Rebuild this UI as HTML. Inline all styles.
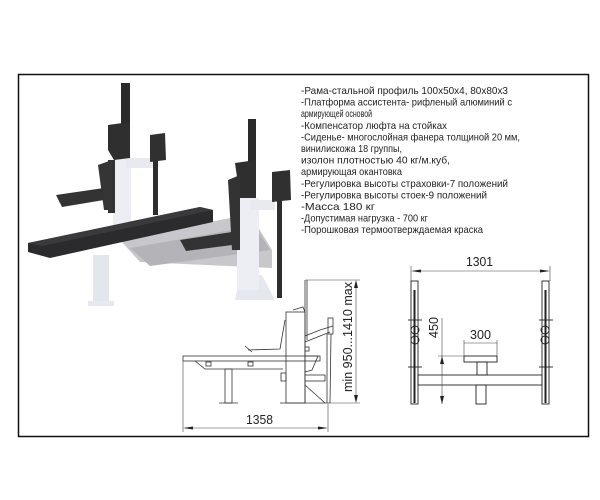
<!DOCTYPE html>
<html><head><meta charset="utf-8"><style>
html,body{margin:0;padding:0;background:#fff;}
svg{display:block;}
text{font-family:"Liberation Sans",sans-serif;fill:#222;}
</style></head><body>
<svg width="600" height="500" viewBox="0 0 600 500" xmlns="http://www.w3.org/2000/svg">
<rect x="0" y="0" width="600" height="500" fill="#fff"/>
<rect x="18.5" y="74.5" width="570" height="362" fill="none" stroke="#111" stroke-width="1.5"/>

<!-- photo -->
<g>
<!-- grey frame under bench -->
<polygon points="120,240 250,214 272,250 272,268 140,262" fill="#c8c8cc"/>
<polygon points="130,248 255,226 270,250 150,266" fill="#b4b4b8"/>
<!-- left front leg -->
<rect x="93" y="255" width="16" height="48" fill="#e4e6ee"/>
<rect x="88" y="301" width="26" height="5" fill="#e8e8f0"/>
<!-- left upright white -->
<rect x="113" y="155" width="18" height="70" fill="#eceef4"/>
<rect x="126" y="158" width="28" height="10" fill="#e8eaf0"/>
<!-- left upright dark -->
<rect x="121" y="83" width="9" height="45" fill="#2a2a2a"/>
<polygon points="108,125 130,122 130,158 114,160 108,150" fill="#2f2f2f"/>
<polygon points="108,160 115,160 115,213 108,213" fill="#333"/>
<polygon points="98,165 112,160 112,210 104,210" fill="#353535"/>
<polygon points="56,195 104,188 104,200 62,207" fill="#333"/>
<!-- left vertical bar -->
<rect x="153" y="140" width="5" height="75" fill="#2e2e2e"/>
<polygon points="150,135 165,133 166,160 150,162" fill="#303030"/>
<!-- bench pad -->
<polygon points="28,243 200,207 213,210 213,222 50,258 28,252" fill="#2b2b2d"/>
<polygon points="28,243 200,207 213,210 42,246" fill="#3a3a3c"/>
<!-- right upright white -->
<rect x="237" y="198" width="22" height="95" fill="#eceef4"/>
<polygon points="237,290 235,300 275,300 262,275 259,275 259,290" fill="#e6e8f0"/>
<rect x="250" y="200" width="25" height="10" fill="#e8eaf0"/>
<!-- right upright dark -->
<rect x="248" y="119" width="8" height="45" fill="#2a2a2a"/>
<polygon points="235,163 256,160 256,198 240,198" fill="#2f2f2f"/>
<polygon points="228,180 240,175 240,250 232,250" fill="#333"/>
<polygon points="180,240 232,232 232,245 186,251" fill="#333"/>
<!-- right vertical bar -->
<rect x="277" y="200" width="5" height="98" fill="#2e2e2e"/>
<polygon points="272,172 290,170 291,200 272,202" fill="#303030"/>
</g>

<!-- specs text -->
<g font-size="10.5" lengthAdjust="spacingAndGlyphs">
<text x="301" y="94" textLength="207" lengthAdjust="spacingAndGlyphs">-Рама-стальной профиль 100x50x4, 80x80x3</text>
<text x="301" y="105.6" textLength="211" lengthAdjust="spacingAndGlyphs">-Платформа ассистента- рифленый алюминий с</text>
<text x="301" y="117.2" textLength="71" lengthAdjust="spacingAndGlyphs">армирующей основой</text>
<text x="301" y="128.8" textLength="146" lengthAdjust="spacingAndGlyphs">-Компенсатор люфта на стойках</text>
<text x="301" y="140.4" textLength="219" lengthAdjust="spacingAndGlyphs">-Сиденье- многослойная фанера толщиной 20 мм,</text>
<text x="301" y="152" textLength="101" lengthAdjust="spacingAndGlyphs">винилискожа 18 группы,</text>
<text x="301" y="163.6" textLength="149" lengthAdjust="spacingAndGlyphs">изолон плотностью 40 кг/м.куб,</text>
<text x="301" y="175.2" textLength="101" lengthAdjust="spacingAndGlyphs">армирующая окантовка</text>
<text x="301" y="186.8" textLength="207" lengthAdjust="spacingAndGlyphs">-Регулировка высоты страховки-7 положений</text>
<text x="301" y="198.4" textLength="186" lengthAdjust="spacingAndGlyphs">-Регулировка высоты стоек-9 положений</text>
<text x="301" y="210" textLength="74" lengthAdjust="spacingAndGlyphs">-Масса 180 кг</text>
<text x="301" y="221.6" textLength="127" lengthAdjust="spacingAndGlyphs">-Допустимая нагрузка - 700 кг</text>
<text x="301" y="233.2" textLength="182" lengthAdjust="spacingAndGlyphs">-Порошковая термоотверждаемая краска</text>
</g>

<!-- side view -->
<g fill="none" stroke="#333" stroke-width="0.8">
<rect x="183" y="356" width="137" height="5"/>
<polyline points="195,361 205,369 283,369"/>
<rect x="206" y="362" width="5" height="4"/>
<rect x="248" y="362" width="5" height="4"/>
<rect x="225" y="369" width="7" height="34"/>
<line x1="219" y1="403" x2="238" y2="403"/>
<rect x="286" y="312" width="19" height="91"/>
<polyline points="293,310 303,307 305,312"/>
<line x1="305" y1="280" x2="305" y2="403"/>
<line x1="307" y1="280" x2="307" y2="340"/>
<polyline points="248,350 280,349 285,320"/>
<polyline points="245,346 252,352"/>
<polyline points="305,336 320,330 333,326"/>
<polyline points="305,342 330,332"/>
<rect x="328" y="318" width="5" height="16"/>
<line x1="327" y1="334" x2="327" y2="403"/>
<line x1="331" y1="334" x2="330" y2="403"/>
<polyline points="305,356 318,356 312,370 305,372"/>
<line x1="305" y1="385" x2="325" y2="403"/>
<rect x="305" y="375" width="20" height="6"/>
<line x1="280" y1="403" x2="330" y2="403"/>
<rect x="281" y="373" width="5" height="8"/>
<rect x="305" y="347" width="4" height="4"/>
</g>
<g stroke="#444" stroke-width="0.6" fill="none">
<line x1="305" y1="280" x2="360" y2="280"/>
<line x1="330" y1="403" x2="360" y2="403"/>
<line x1="356" y1="282" x2="356" y2="401"/>
<line x1="183" y1="361" x2="183" y2="432"/>
<line x1="328" y1="404" x2="328" y2="432"/>
<line x1="185" y1="428" x2="326" y2="428"/>
</g>
<g fill="#222">
<polygon points="356,280 354,288 358,288"/>
<polygon points="356,403 354,395 358,395"/>
<polygon points="183,428 193,426.5 193,429.5"/>
<polygon points="328,428 318,426.5 318,429.5"/>
</g>
<text x="0" y="0" font-size="13" transform="translate(352,392) rotate(-90)" textLength="110" lengthAdjust="spacingAndGlyphs">min 950...1410 max</text>
<text x="246" y="424" font-size="13" textLength="27" lengthAdjust="spacingAndGlyphs">1358</text>

<!-- front view -->
<g fill="none" stroke="#222" stroke-width="0.9">
<rect x="411" y="281" width="7" height="123"/>
<rect x="542" y="281" width="7" height="123"/>
<line x1="414.5" y1="290" x2="414.5" y2="403" stroke-width="2"/>
<line x1="545.5" y1="290" x2="545.5" y2="403" stroke-width="2"/>
<rect x="418" y="375" width="124" height="10"/>
<rect x="476" y="385" width="10" height="19"/>
<rect x="477" y="362" width="10" height="13"/>
<rect x="464" y="356" width="33" height="6"/>
<circle cx="415" cy="330" r="4"/><circle cx="415" cy="340" r="4"/>
<circle cx="545" cy="330" r="4"/><circle cx="545" cy="340" r="4"/>
<line x1="408" y1="320" x2="422" y2="320"/><line x1="539" y1="320" x2="553" y2="320"/>
<line x1="408" y1="367" x2="422" y2="367"/><line x1="539" y1="367" x2="553" y2="367"/>
</g>
<g stroke="#444" stroke-width="0.6" fill="none">
<line x1="411" y1="266" x2="411" y2="281"/>
<line x1="550" y1="266" x2="550" y2="281"/>
<line x1="413" y1="271" x2="548" y2="271"/>
<line x1="442" y1="318" x2="442" y2="404"/>
<line x1="438" y1="356" x2="464" y2="356"/>
<line x1="464" y1="340" x2="464" y2="356"/>
<line x1="497" y1="340" x2="497" y2="356"/>
<line x1="464" y1="343" x2="497" y2="343"/>
</g>
<g fill="#222">
<polygon points="411,271 421,269.5 421,272.5"/>
<polygon points="550,271 540,269.5 540,272.5"/>
<polygon points="442,356 440,364 444,364"/>
<polygon points="442,404 440,396 444,396"/>
</g>
<text x="466" y="266" font-size="13" textLength="27" lengthAdjust="spacingAndGlyphs">1301</text>
<text x="470" y="339" font-size="13" textLength="21" lengthAdjust="spacingAndGlyphs">300</text>
<text x="0" y="0" font-size="13" transform="translate(438,338) rotate(-90)" textLength="21" lengthAdjust="spacingAndGlyphs">450</text>
</svg>
</body></html>
